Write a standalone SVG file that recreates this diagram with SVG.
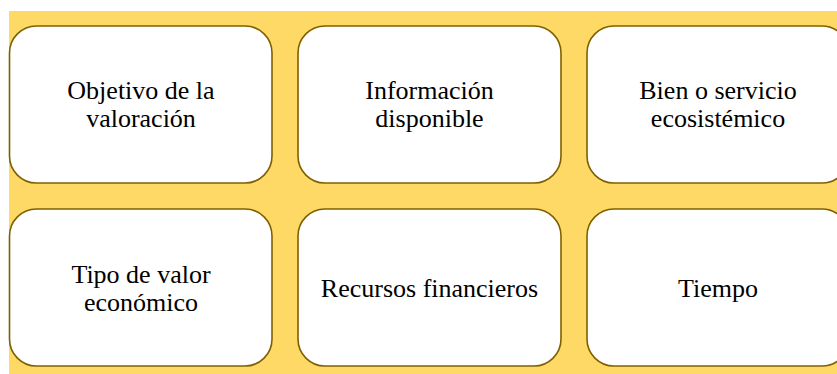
<svg xmlns="http://www.w3.org/2000/svg" width="837" height="374" viewBox="0 0 837 374">
<style>
.box{fill:#ffffff;stroke:#7f6000;stroke-width:1.6}
.t{font-family:"Liberation Serif","Times New Roman",serif;font-size:26px;fill:#000000;text-anchor:middle}
</style>
<rect x="9" y="11" width="828" height="363" fill="#ffd966"/>
<g id="n1"><rect class="box" x="9.5" y="26" width="262.5" height="157" rx="27" ry="27"/><text class="t" x="141" y="99">Objetivo de la</text><text class="t" x="141" y="127">valoración</text></g>
<g id="n2"><rect class="box" x="298" y="26" width="263" height="157" rx="27" ry="27"/><text class="t" x="429.5" y="99">Información</text><text class="t" x="429.5" y="127">disponible</text></g>
<g id="n3"><rect class="box" x="587" y="26" width="262" height="157" rx="27" ry="27"/><text class="t" x="718" y="99">Bien o servicio</text><text class="t" x="718" y="127">ecosistémico</text></g>
<g id="n4"><rect class="box" x="9.5" y="209" width="262.5" height="157" rx="27" ry="27"/><text class="t" x="141" y="282.5">Tipo de valor</text><text class="t" x="141" y="310.5">económico</text></g>
<g id="n5"><rect class="box" x="298" y="209" width="263" height="157" rx="27" ry="27"/><text class="t" x="429.5" y="297">Recursos financieros</text></g>
<g id="n6"><rect class="box" x="587" y="209" width="262" height="157" rx="27" ry="27"/><text class="t" x="718" y="297">Tiempo</text></g>
<g id="connectors"/>
</svg>
